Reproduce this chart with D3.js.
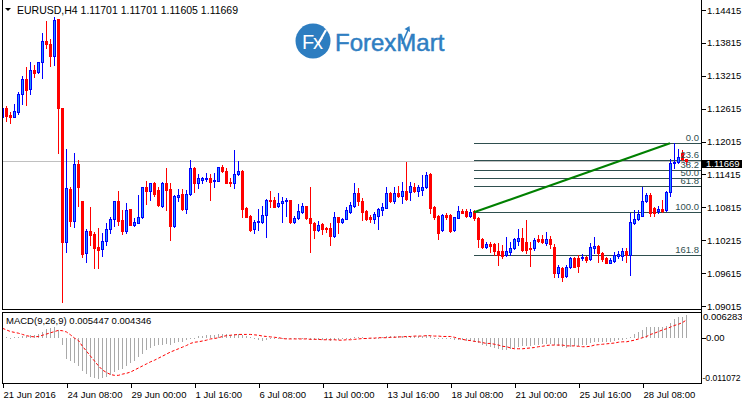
<!DOCTYPE html>
<html><head><meta charset="utf-8">
<script src="https://cdn.jsdelivr.net/npm/d3@7"></script>
<style>html,body{margin:0;padding:0;background:#fff;overflow:hidden}</style>
</head><body><svg id="c" width="742" height="403"></svg>
<script>
// ---- data (EURUSD H4) ----
const open = [1.12469,1.12621,1.12499,1.12469,1.12560,1.12876,1.13156,1.12967,1.13320,1.13278,
1.13460,1.13849,1.13795,1.13582,1.14251,1.12621,1.10188,1.11143,1.10571,1.11605,
1.10930,1.09975,1.10383,1.10328,1.10085,1.10048,1.10200,1.10413,1.10596,1.10930,
1.10583,1.10383,1.10778,1.10492,1.10535,1.10632,1.11180,1.11119,1.11264,1.11131,
1.10845,1.11252,1.11143,1.10474,1.11009,1.11052,1.10784,1.11052,1.11526,1.11252,
1.11313,1.11332,1.11344,1.11295,1.11301,1.11544,1.11483,1.11283,1.11265,1.11417,
1.11483,1.10796,1.10656,1.10413,1.10541,1.10547,1.10675,1.10948,1.10948,1.10845,
1.10888,1.10930,1.10948,1.10553,1.10614,1.10736,1.10839,1.10626,1.10535,1.10401,
1.10510,1.10431,1.10444,1.10298,1.10632,1.10541,1.10602,1.10736,1.10839,1.11070,
1.10931,1.10748,1.10633,1.10596,1.10663,1.10766,1.10809,1.11083,1.10931,1.11083,
1.11028,1.11113,1.11101,1.11192,1.11119,1.11131,1.11180,1.11417,1.10815,1.10657,
1.10402,1.10675,1.10675,1.10402,1.10626,1.10748,1.10748,1.10657,1.10748,1.10626,
1.10237,1.10097,1.10146,1.10146,1.10024,1.10024,1.09945,1.10006,1.10067,1.10201,
1.10249,1.10189,1.10067,1.10067,1.10231,1.10231,1.10170,1.10231,1.10085,1.09623,
1.09714,1.09568,1.09720,1.09897,1.09897,1.09885,1.09915,1.09867,1.10079,1.10110,
1.09988,1.09885,1.09805,1.09836,1.09927,1.09933,1.10018,1.09945,1.10535,1.10602,
1.10663,1.10937,1.11040,1.10797,1.10748,1.10779,1.10766,1.11089,1.11618,1.11636,
1.11813,1.11701];
const high = [1.12803,1.12663,1.12560,1.12694,1.12925,1.13211,1.13381,1.13472,1.13411,1.13472,
1.14001,1.14220,1.13880,1.14293,1.14251,1.12633,1.11873,1.11192,1.11800,1.11678,
1.10930,1.10413,1.10827,1.10371,1.10431,1.10352,1.10523,1.10644,1.10935,1.11112,
1.10766,1.10900,1.10785,1.10626,1.11039,1.11186,1.11295,1.11264,1.11283,1.11180,
1.11283,1.11538,1.11252,1.11039,1.11149,1.11143,1.11131,1.11678,1.11556,1.11417,
1.11374,1.11435,1.11417,1.11435,1.11556,1.11587,1.11526,1.11344,1.11861,1.11666,
1.11496,1.10827,1.10675,1.10583,1.10778,1.10845,1.10961,1.11112,1.11009,1.11082,
1.10997,1.10979,1.10955,1.10662,1.10875,1.10900,1.10845,1.11192,1.10553,1.10571,
1.10523,1.10462,1.10523,1.10736,1.10644,1.10614,1.10827,1.10918,1.11253,1.11162,
1.10979,1.10766,1.10675,1.10736,1.10797,1.10900,1.11192,1.11101,1.11192,1.11204,
1.11283,1.11648,1.11283,1.11253,1.11223,1.11405,1.11466,1.11435,1.10839,1.10675,
1.10693,1.10706,1.10687,1.10645,1.10839,1.10779,1.10779,1.10779,1.10766,1.10633,
1.10262,1.10189,1.10189,1.10170,1.10170,1.10128,1.10268,1.10189,1.10249,1.10420,
1.10432,1.10584,1.10189,1.10262,1.10310,1.10310,1.10371,1.10292,1.10140,1.09763,
1.09720,1.09763,1.09915,1.09915,1.09945,1.09964,1.09933,1.10170,1.10280,1.10128,
1.10006,1.09903,1.09885,1.10006,1.10024,1.10067,1.10067,1.10706,1.10766,1.10766,
1.11192,1.11070,1.11070,1.10827,1.10839,1.10949,1.11113,1.11691,1.11983,1.11873,
1.11861,1.11701];
const low = [1.12408,1.12390,1.12359,1.12460,1.12517,1.12694,1.12682,1.12882,1.13199,1.13259,
1.13168,1.13716,1.13399,1.13411,1.11800,1.09093,1.10006,1.10474,1.10462,1.10839,
1.09902,1.09823,1.10127,1.09701,1.09701,1.09933,1.10121,1.10352,1.10474,1.10492,
1.10328,1.10340,1.10486,1.10474,1.10523,1.10626,1.10875,1.10948,1.11021,1.10839,
1.10827,1.10766,1.10218,1.10450,1.10936,1.10766,1.10705,1.11039,1.11100,1.11173,
1.11252,1.11301,1.10948,1.11192,1.11295,1.11465,1.11252,1.11204,1.11173,1.11405,
1.10644,1.10632,1.10389,1.10352,1.10401,1.10523,1.10280,1.10827,1.10815,1.10827,
1.10553,1.10662,1.10523,1.10523,1.10596,1.10705,1.10602,1.10006,1.10249,1.10389,
1.10328,1.10371,1.10127,1.10280,1.10340,1.10523,1.10596,1.10718,1.10827,1.10858,
1.10584,1.10584,1.10553,1.10523,1.10414,1.10675,1.10797,1.10918,1.10900,1.11010,
1.10888,1.10949,1.10949,1.11101,1.11022,1.11040,1.11162,1.10706,1.10596,1.10231,
1.10389,1.10596,1.10371,1.10383,1.10614,1.10706,1.10645,1.10645,1.10584,1.10097,
1.10067,1.10067,1.10006,1.09945,1.09763,1.09885,1.09927,1.09945,1.10049,1.10128,
1.10024,1.09976,1.09745,1.10037,1.10189,1.10158,1.10128,1.10067,1.09538,1.09550,
1.09477,1.09550,1.09702,1.09720,1.09641,1.09854,1.09824,1.09854,1.09976,1.09824,
1.09836,1.09793,1.09793,1.09812,1.09885,1.09854,1.09824,1.09580,1.10511,1.10584,
1.10657,1.10918,1.10657,1.10657,1.10718,1.10736,1.10754,1.11022,1.11526,1.11618,
1.11679,1.11605];
const close = [1.12621,1.12487,1.12469,1.12578,1.12882,1.13156,1.12955,1.13320,1.13272,1.13460,
1.13849,1.13789,1.13582,1.14233,1.12621,1.10188,1.11161,1.10571,1.11605,1.11192,
1.09963,1.10389,1.10310,1.10066,1.10036,1.10206,1.10419,1.10602,1.10930,1.10571,
1.10383,1.10766,1.10492,1.10541,1.10632,1.11180,1.11119,1.11252,1.11058,1.10857,
1.11252,1.11131,1.10480,1.11021,1.11039,1.10784,1.11052,1.11526,1.11252,1.11356,
1.11344,1.11344,1.11283,1.11307,1.11544,1.11471,1.11265,1.11252,1.11417,1.11483,
1.10784,1.10644,1.10401,1.10541,1.10565,1.10675,1.10948,1.10930,1.10827,1.10900,
1.10936,1.10948,1.10553,1.10626,1.10754,1.10839,1.10614,1.10523,1.10401,1.10492,
1.10419,1.10419,1.10298,1.10632,1.10553,1.10602,1.10766,1.10858,1.11070,1.10931,
1.10736,1.10596,1.10596,1.10693,1.10785,1.10827,1.11083,1.10931,1.11083,1.11022,
1.11113,1.10961,1.11204,1.11119,1.11180,1.11192,1.11405,1.10797,1.10633,1.10341,
1.10675,1.10633,1.10389,1.10633,1.10748,1.10718,1.10663,1.10736,1.10614,1.10231,
1.10097,1.10146,1.10110,1.10018,1.09945,1.09927,1.10024,1.10079,1.10231,1.10249,
1.10037,1.10037,1.10049,1.10219,1.10201,1.10189,1.10231,1.10140,1.09623,1.09732,
1.09550,1.09732,1.09897,1.09732,1.09745,1.09915,1.09854,1.10085,1.10110,1.09976,
1.09867,1.09805,1.09854,1.09945,1.09958,1.10018,1.09945,1.10553,1.10602,1.10687,
1.10937,1.11040,1.10718,1.10718,1.10779,1.10754,1.11101,1.11630,1.11648,1.11727,
1.11691,1.11669];

const macdMain = [0.0001,0.0001,0.0000,0.0001,0.0002,0.0005,0.0005,0.0006,0.0006,0.0009,
0.0015,0.0021,0.0024,0.0027,0.0018,-0.0017,-0.0053,-0.0057,-0.0061,-0.0069,
-0.0081,-0.0089,-0.0095,-0.0099,-0.0100,-0.0099,-0.0096,-0.0092,-0.0085,-0.0080,
-0.0076,-0.0069,-0.0063,-0.0056,-0.0048,-0.0039,-0.0031,-0.0025,-0.0021,-0.0019,
-0.0018,-0.0016,-0.0017,-0.0014,-0.0011,-0.0010,-0.0006,-0.0002,-0.0001,0.0003,
0.0005,0.0006,0.0006,0.0006,0.0008,0.0009,0.0008,0.0007,0.0008,0.0009,
0.0006,0.0005,0.0002,-0.0003,-0.0006,-0.0007,-0.0006,-0.0004,-0.0003,-0.0002,
-0.0002,-0.0001,-0.0003,-0.0004,-0.0004,-0.0003,-0.0004,-0.0005,-0.0006,-0.0006,
-0.0006,-0.0006,-0.0007,-0.0005,-0.0005,-0.0004,-0.0002,0.0000,0.0002,0.0002,
0.0001,0.0000,-0.0001,-0.0001,0.0000,0.0001,0.0003,0.0003,0.0004,0.0004,
0.0005,0.0004,0.0005,0.0005,0.0005,0.0005,0.0007,0.0003,0.0000,-0.0003,
-0.0002,-0.0002,-0.0003,-0.0005,-0.0005,-0.0006,-0.0008,-0.0009,-0.0010,-0.0013,
-0.0017,-0.0021,-0.0023,-0.0025,-0.0027,-0.0029,-0.0029,-0.0027,-0.0025,-0.0023,
-0.0021,-0.0021,-0.0021,-0.0018,-0.0017,-0.0015,-0.0015,-0.0015,-0.0019,-0.0021,
-0.0023,-0.0025,-0.0022,-0.0021,-0.0021,-0.0019,-0.0018,-0.0013,-0.0010,-0.0010,
-0.0010,-0.0010,-0.0010,-0.0008,-0.0006,-0.0005,-0.0003,0.0001,0.0008,0.0013,
0.0019,0.0026,0.0026,0.0026,0.0026,0.0026,0.0029,0.0037,0.0045,0.0050,
0.0051,0.005447];
const macdSignal = [0.0023,0.0019,0.0015,0.0013,0.0011,0.0008,0.0005,0.0003,0.0002,0.0003,
0.0006,0.0009,0.0012,0.0015,0.0018,0.0017,0.0014,0.0007,-0.0001,-0.0007,
-0.0021,-0.0033,-0.0045,-0.0057,-0.0069,-0.0079,-0.0085,-0.0090,-0.0092,-0.0092,
-0.0089,-0.0087,-0.0084,-0.0079,-0.0074,-0.0069,-0.0064,-0.0059,-0.0055,-0.0050,
-0.0045,-0.0040,-0.0035,-0.0031,-0.0027,-0.0023,-0.0019,-0.0014,-0.0011,-0.0010,
-0.0008,-0.0006,-0.0003,-0.0002,0.0000,0.0003,0.0005,0.0006,0.0007,0.0008,
0.0008,0.0008,0.0008,0.0007,0.0006,0.0004,0.0003,0.0002,0.0001,0.0000,
-0.0002,-0.0003,-0.0003,-0.0003,-0.0003,-0.0003,-0.0003,-0.0004,-0.0004,-0.0004,
-0.0005,-0.0005,-0.0005,-0.0005,-0.0006,-0.0006,-0.0005,-0.0005,-0.0004,-0.0003,
-0.0002,-0.0002,-0.0001,-0.0001,0.0000,0.0000,0.0000,0.0001,0.0001,0.0002,
0.0002,0.0003,0.0003,0.0004,0.0004,0.0004,0.0005,0.0005,0.0004,0.0004,
0.0003,0.0003,0.0003,0.0001,-0.0002,-0.0004,-0.0006,-0.0007,-0.0009,-0.0010,
-0.0012,-0.0014,-0.0014,-0.0016,-0.0018,-0.0021,-0.0022,-0.0025,-0.0027,-0.0027,
-0.0027,-0.0026,-0.0025,-0.0024,-0.0022,-0.0021,-0.0019,-0.0018,-0.0018,-0.0018,
-0.0018,-0.0020,-0.0020,-0.0020,-0.0021,-0.0022,-0.0022,-0.0021,-0.0018,-0.0017,
-0.0016,-0.0015,-0.0014,-0.0013,-0.0011,-0.0010,-0.0010,-0.0008,-0.0006,-0.0003,
0.0000,0.0003,0.0008,0.0011,0.0015,0.0019,0.0022,0.0026,0.0030,0.0033,
0.0037,0.004346];

const timeLabels = ["21 Jun 2016","24 Jun 08:00","29 Jun 00:00","1 Jul 16:00","6 Jul 08:00",
  "11 Jul 00:00","13 Jul 16:00","18 Jul 08:00","21 Jul 00:00","25 Jul 16:00","28 Jul 08:00"];
const timeLabelBars = [0,16,32,48,64,80,96,112,128,144,160];
const priceTicks = [1.14415,1.13815,1.13215,1.12615,1.12015,1.11415,1.10815,1.10215,1.09615,1.09015];
const macdTicks = [0.006283,0,-0.011072];
const macdTickLabels = ["0.006283","0.00","-0.011072"];
const fibLevels = [0,23.6,38.2,50,61.8,100,161.8];
const fibLabels = ["0.0","23.6","38.2","50.0","61.8","100.0","161.8"];
const fibHigh = 1.11983, fibLow = 1.10724, fibStartBar = 118, fibEndBar = 167;
const bid = 1.11669;
const titleText = "EURUSD,H4  1.11701 1.11701 1.11605 1.11669";
const macdText = "MACD(9,26,9) 0.005447 0.004346";

// ---- layout ----
const W = 742, H = 403;
const L = 2, R = 701, mainTop = 0, mainBot = 309, macTop = 312, macBot = 383;
const FONT = "'Liberation Sans', Arial, sans-serif";
const svg = d3.select("#c");

const x = d3.scaleLinear().domain([0, 174.75]).range([L, R]);
const y = d3.scaleLinear().domain([1.08960, 1.14597]).range([mainBot, mainTop]);
const ym = d3.scaleLinear().domain([-0.011072, 0.006283]).range([macBot, macTop]);

const defs = svg.append("defs");
defs.append("clipPath").attr("id","cm").append("rect").attr("x",L+1).attr("y",mainTop).attr("width",R-L-1).attr("height",mainBot-mainTop);
defs.append("clipPath").attr("id","cd").append("rect").attr("x",L+1).attr("y",macTop+1).attr("width",R-L-1).attr("height",macBot-macTop-1);

svg.append("rect").attr("width",W).attr("height",H).attr("fill","#fff");

// ---- logo ----
const logo = svg.append("g");
logo.append("circle").attr("cx",313).attr("cy",41).attr("r",17.5).attr("fill","#2d7dc0");
logo.append("text").attr("x",312).attr("y",49).attr("text-anchor","middle").attr("font-family",FONT)
  .attr("font-size",20).attr("letter-spacing",-1).attr("fill","#fff").text("Fx");
logo.append("path").attr("d","M318,44 L326,30").attr("stroke","#fff").attr("stroke-width",2.2).attr("fill","none");
logo.append("text").attr("x",335).attr("y",51).attr("font-family",FONT).attr("font-size",24)
  .attr("fill","#2f7ec2").attr("stroke","#2f7ec2").attr("stroke-width",0.5).text("ForexMart");
logo.append("path").attr("d","M402,44 L408,30").attr("stroke","#2f7ec2").attr("stroke-width",1.6).attr("fill","none");
logo.append("path").attr("d","M404.5,29 L409.5,26 L410,32 Z").attr("fill","#2f7ec2");

// ---- main panel ----
const gMain = svg.append("g").attr("clip-path","url(#cm)");

// bid line
gMain.append("line").attr("x1",L).attr("x2",R).attr("y1",Math.round(y(bid))+0.5).attr("y2",Math.round(y(bid))+0.5)
  .attr("stroke","#c0c0c0").attr("shape-rendering","crispEdges");

// fibonacci
const fibPrice = l => fibHigh - (fibHigh - fibLow) * l / 100;
const fx0 = x(fibStartBar);
fibLevels.forEach((l,k) => {
  const yy = Math.round(y(fibPrice(l))) + 0.5;
  gMain.append("line").attr("x1",fx0).attr("x2",R).attr("y1",yy).attr("y2",yy)
    .attr("stroke","#2f4f4f").attr("stroke-width",1).attr("shape-rendering","crispEdges");
});

// candles
const idx = d3.range(close.length);
const cg = gMain.append("g");
idx.forEach(i => {
  const cx = Math.round(x(i));
  const bull = close[i] >= open[i];
  const col = bull ? "#0000ff" : "#ff0000";
  cg.append("line").attr("x1",cx+0.5).attr("x2",cx+0.5)
    .attr("y1",Math.round(y(high[i]))).attr("y2",Math.round(y(low[i]))+1)
    .attr("stroke",col).attr("shape-rendering","crispEdges");
  const yt = Math.round(y(Math.max(open[i],close[i])));
  const yb = Math.round(y(Math.min(open[i],close[i])));
  if (bull) {
    cg.append("rect").attr("x",cx-0.5).attr("y",yt+0.5).attr("width",2).attr("height",Math.max(yb-yt,1))
      .attr("fill","#1e90ff").attr("stroke","#0000ff").attr("stroke-width",1);
  } else {
    cg.append("rect").attr("x",cx-1).attr("y",yt).attr("width",3).attr("height",Math.max(yb-yt+1,1))
      .attr("fill","#ff0000").attr("shape-rendering","crispEdges");
  }
});

// trend line
gMain.append("line").attr("x1",x(fibStartBar)).attr("y1",y(fibLow)).attr("x2",x(fibEndBar)).attr("y2",y(fibHigh))
  .attr("stroke","#008000").attr("stroke-width",2);

// fib labels
fibLevels.forEach((l,k) => {
  svg.append("text").attr("x",699).attr("y",Math.round(y(fibPrice(l)))-2).attr("text-anchor","end")
    .attr("font-family",FONT).attr("font-size",9.5).attr("fill","#2f4f4f").text(fibLabels[k]);
});

// ---- MACD panel ----
const gM = svg.append("g").attr("clip-path","url(#cd)");
const y0 = Math.round(ym(0));
idx.forEach(i => {
  const v = macdMain[i];
  let yv = Math.round(ym(v));
  let a = Math.min(y0, yv), b = Math.max(y0, yv);
  if (b - a < 1) b = a + 1;
  gM.append("line").attr("x1",Math.round(x(i))+0.5).attr("x2",Math.round(x(i))+0.5)
    .attr("y1",a).attr("y2",b).attr("stroke","#a9a9a9").attr("shape-rendering","crispEdges");
});
gM.append("path").datum(idx)
  .attr("d", d3.line().x(i => Math.round(x(i))+0.5).y(i => ym(macdSignal[i])))
  .attr("fill","none").attr("stroke","#ff0000").attr("stroke-width",1).attr("stroke-dasharray","3,2");

// ---- frames ----
const fr = svg.append("g").attr("stroke","#000").attr("shape-rendering","crispEdges").attr("fill","none");
fr.append("line").attr("x1",L+0.5).attr("x2",L+0.5).attr("y1",0).attr("y2",mainBot+1);
fr.append("line").attr("x1",L).attr("x2",R+1).attr("y1",mainBot+0.5).attr("y2",mainBot+0.5);
fr.append("line").attr("x1",L).attr("x2",R+1).attr("y1",macTop+0.5).attr("y2",macTop+0.5);
fr.append("line").attr("x1",L+0.5).attr("x2",L+0.5).attr("y1",macTop).attr("y2",macBot+1);
fr.append("line").attr("x1",L).attr("x2",R+1).attr("y1",macBot+0.5).attr("y2",macBot+0.5);
fr.append("line").attr("x1",R+0.5).attr("x2",R+0.5).attr("y1",0).attr("y2",macBot+1);

// ---- price axis ----
const pa = svg.append("g").attr("transform",`translate(${R+1},0)`)
  .call(d3.axisRight(y).tickValues(priceTicks).tickSize(4).tickPadding(1).tickFormat(d3.format(".5f")));
pa.select(".domain").remove();
pa.selectAll("line").attr("stroke","#000").attr("shape-rendering","crispEdges");
pa.selectAll("text").attr("font-family",FONT).attr("font-size",9.5).attr("fill","#000");

// bid box
const by = Math.round(y(bid));
svg.append("rect").attr("x",R+1).attr("y",by-1).attr("width",W-R-1).attr("height",8).attr("fill","#000");
svg.append("text").attr("x",706).attr("y",by+6).attr("font-family",FONT).attr("font-size",9.5)
  .attr("fill","#fff").text(d3.format(".5f")(bid));

// ---- MACD axis ----
const ma = svg.append("g").attr("transform",`translate(${R+1},0)`)
  .call(d3.axisRight(ym).tickValues([0]).tickSize(4).tickFormat(() => ""));
ma.select(".domain").remove();
ma.selectAll("line").attr("stroke","#000").attr("shape-rendering","crispEdges");
const mPos = [ym(macdTicks[0]) + 5, ym(macdTicks[1]), ym(macdTicks[2]) - 5];
const mX = [703, 706, 702.5];
const mSize = [9.5, 9.5, 8.6];
macdTicks.forEach((t,k) => {
  svg.append("text").attr("x", mX[k]).attr("y", mPos[k]).attr("dy","0.33em")
    .attr("font-family",FONT).attr("font-size",mSize[k]).attr("fill","#000").text(macdTickLabels[k]);
});

// ---- time axis ----
const ta = svg.append("g").attr("transform",`translate(0,${macBot+1})`)
  .call(d3.axisBottom(x).tickValues(timeLabelBars).tickSize(4).tickFormat((d,k) => timeLabels[k]));
ta.select(".domain").remove();
ta.selectAll("line").attr("stroke","#000").attr("transform","translate(0.5,0)").attr("shape-rendering","crispEdges");
ta.selectAll("text").attr("text-anchor","start").attr("x",1).attr("y",7).attr("dy","0.71em")
  .attr("font-family",FONT).attr("font-size",9.5).attr("fill","#000");

// ---- titles ----
svg.append("path").attr("d","M5,8 L11,8 L8,11 Z").attr("fill","#000");
svg.append("text").attr("x",17).attr("y",14).attr("font-family",FONT).attr("font-size",10.5).attr("fill","#000").text(titleText);
svg.append("text").attr("x",6).attr("y",324).attr("font-family",FONT).attr("font-size",9.5).attr("fill","#000").text(macdText);
</script>
</body></html>
